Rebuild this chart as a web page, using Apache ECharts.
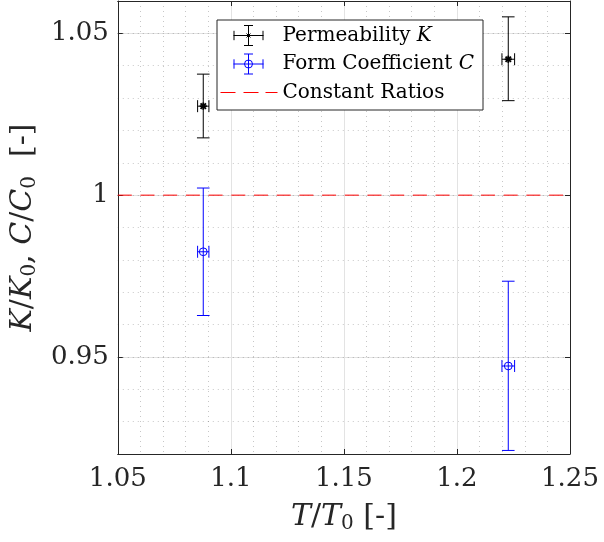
<!DOCTYPE html>
<html><head><meta charset="utf-8">
<script src="https://cdn.jsdelivr.net/npm/echarts@6/dist/echarts.min.js"></script>
<style>html,body{margin:0;padding:0;background:#fff}#c{width:604px;height:542px}</style>
</head><body><div id="c"></div>
<script>
// ---- data ----
const tempRatio = [1.0878, 1.2227];
const tempErr = [0.0025, 0.0028];
const permMean = [1.0275, 1.0420];
const permLow = [1.0177, 1.0292];
const permHigh = [1.0374, 1.0551];
const formMean = [0.9825, 0.9472];
const formLow = [0.9628, 0.9211];
const formHigh = [1.0022, 0.9734];
const constX = [1.05, 1.25];
const constY = [1, 1];
const xTickLabels = ['1.05', '1.1', '1.15', '1.2', '1.25'];
const yTickLabels = ['0.95', '1', '1.05'];
const seriesNames = ['Permeability K', 'Form Coefficient C', 'Constant Ratios'];

const FONT = 'DejaVu Serif';
const AX = '#262626';

function rows(mean, low, high) {
  return tempRatio.map((t, i) => [t, mean[i], low[i], high[i], t - tempErr[i], t + tempErr[i]]);
}

function errorBarRender(marker, color) {
  return function (params, api) {
    const x = api.value(0), y = api.value(1);
    const c = api.coord([x, y]);
    const lo = api.coord([x, api.value(2)]);
    const hi = api.coord([x, api.value(3)]);
    const l = api.coord([api.value(4), y]);
    const r = api.coord([api.value(5), y]);
    const cap = 6.3, hcap = 6;
    const st = { stroke: color, lineWidth: 1, fill: null };
    const ln = (x1, y1, x2, y2, s) => ({ type: 'line', shape: { x1, y1, x2, y2 }, style: s || st });
    const ch = [
      ln(lo[0], lo[1], hi[0], hi[1]),
      ln(lo[0] - cap, lo[1], lo[0] + cap, lo[1]),
      ln(hi[0] - cap, hi[1], hi[0] + cap, hi[1]),
      ln(l[0], l[1], r[0], r[1]),
      ln(l[0], l[1] - hcap, l[0], l[1] + hcap),
      ln(r[0], r[1] - hcap, r[0], r[1] + hcap)
    ];
    if (marker === 'star') {
      const s2 = { stroke: color, lineWidth: 1.8, fill: null };
      const a = 3.6, d = 2.7;
      ch.push(ln(c[0] - a, c[1], c[0] + a, c[1], s2));
      ch.push(ln(c[0], c[1] - a, c[0], c[1] + a, s2));
      ch.push(ln(c[0] - d, c[1] - d, c[0] + d, c[1] + d, s2));
      ch.push(ln(c[0] - d, c[1] + d, c[0] + d, c[1] - d, s2));
    } else {
      ch.push({ type: 'circle', shape: { cx: c[0], cy: c[1], r: 3.9 }, style: { stroke: color, lineWidth: 1, fill: null } });
    }
    return { type: 'group', children: ch };
  };
}

const iconK = 'path://M0,0 M57,22 M13,11 L43,11 M13.5,6.3 L13.5,15.7 M42.5,6.3 L42.5,15.7 M28,1 L28,21 M23.5,1 L32.5,1 M23.5,21 L32.5,21 M25,11 L31,11 M28,8 L28,14 M26,9 L30,13 M30,9 L26,13';
const iconC = 'path://M0,0 M57,22 M13,11 L43,11 M13.5,6.3 L13.5,15.7 M42.5,6.3 L42.5,15.7 M28,1 L28,21 M23.5,1 L32.5,1 M23.5,21 L32.5,21 M32,11 A4,4 0 1 1 24,11 A4,4 0 1 1 32,11';
const iconL = 'path://M0,0 M57,22 M0,11 L15,11 M23,11 L38,11 M45,11 L57,11';

const yMinor = 'rgba(0,0,0,0.22)';
const gridMajor = '#e3e3e3';

const option = {
  animation: false,
  backgroundColor: '#fff',
  grid: { left: 117, right: 34, top: 1, bottom: 88 },
  legend: {
    orient: 'vertical', left: 217, top: 20,
    backgroundColor: '#fff', borderColor: AX, borderWidth: 1, borderRadius: 0,
    padding: [4, 9, 6, 3], itemGap: 5.5, itemWidth: 57, itemHeight: 22,
    textStyle: { fontFamily: FONT, fontSize: 20, color: '#000',
      rich: { i: { fontFamily: FONT, fontSize: 20, fontStyle: 'italic', color: '#000' } } },
    formatter: function (name) {
      if (name === seriesNames[0]) return 'Permeability {i|K}';
      if (name === seriesNames[1]) return 'Form Coefficient {i|C}';
      return name;
    },
    data: [
      { name: seriesNames[0], icon: iconK, itemStyle: { color: 'rgba(0,0,0,0)', borderColor: '#000', borderWidth: 1 } },
      { name: seriesNames[1], icon: iconC, itemStyle: { color: 'rgba(0,0,0,0)', borderColor: '#0000ff', borderWidth: 1 } },
      { name: seriesNames[2], icon: iconL, itemStyle: { color: 'rgba(0,0,0,0)', borderColor: '#ff0000', borderWidth: 1 } }
    ]
  },
  xAxis: [
    {
      type: 'value', min: 1.05, max: 1.25, interval: 0.05, position: 'bottom',
      axisLine: { lineStyle: { color: AX, width: 1 } },
      axisTick: { inside: true, length: 5, lineStyle: { color: AX } },
      axisLabel: { fontFamily: FONT, fontSize: 26, color: AX, margin: 12,
        formatter: v => { const i = xTickLabels.findIndex(s => Math.abs(parseFloat(s) - v) < 1e-9); return i >= 0 ? xTickLabels[i] : ''; } },
      splitLine: { show: true, lineStyle: { color: gridMajor, width: 1 } },
      minorTick: { show: false, splitNumber: 5 },
      minorSplitLine: { show: true, lineStyle: { color: yMinor, type: [1, 4], width: 1 } },
      name: '{i|T}/{i|T}{s|0} [-]', nameLocation: 'middle', nameGap: 46,
      nameTextStyle: { fontFamily: FONT, fontSize: 30, color: AX,
        rich: { i: { fontFamily: FONT, fontSize: 30, fontStyle: 'italic', color: AX },
                s: { fontFamily: FONT, fontSize: 20, color: AX, padding: [14, 0, 0, 0] } } }
    },
    {
      type: 'value', min: 1.05, max: 1.25, interval: 0.05, position: 'top',
      axisLine: { lineStyle: { color: AX, width: 1 } },
      axisTick: { inside: true, length: 5, lineStyle: { color: AX } },
      axisLabel: { show: false }, splitLine: { show: false }
    }
  ],
  yAxis: [
    {
      type: 'value', min: 0.92, max: 1.06, minInterval: 0.05, maxInterval: 0.05, splitNumber: 3, position: 'left',
      axisLine: { lineStyle: { color: AX, width: 1 } },
      axisTick: { inside: true, length: 5, lineStyle: { color: AX } },
      axisLabel: { fontFamily: FONT, fontSize: 26, color: AX, margin: 9,
        formatter: v => { const i = yTickLabels.findIndex(s => Math.abs(parseFloat(s) - v) < 1e-9); return i >= 0 ? yTickLabels[i] : ''; } },
      splitLine: { show: true, lineStyle: { color: gridMajor, width: 1 } },
      name: '{i|K}/{i|K}{s|0}, {i|C}/{i|C}{s|0}  [-]', nameLocation: 'middle', nameGap: 73,
      nameTextStyle: { fontFamily: FONT, fontSize: 30, color: AX,
        rich: { i: { fontFamily: FONT, fontSize: 30, fontStyle: 'italic', color: AX },
                s: { fontFamily: FONT, fontSize: 20, color: AX, padding: [14, 0, 0, 0] } } }
    },
    {
      type: 'value', min: 0.92, max: 1.06, minInterval: 0.05, maxInterval: 0.05, splitNumber: 3, position: 'right',
      axisLine: { show: true, lineStyle: { color: AX, width: 1 } },
      axisTick: { inside: true, length: 5, lineStyle: { color: AX } },
      axisLabel: { show: false }, splitLine: { show: false }
    },
    {
      type: 'value', min: 0.92, max: 1.06, interval: 0.01, position: 'left',
      axisLine: { show: false }, axisTick: { show: false }, axisLabel: { show: false },
      splitLine: { show: true, lineStyle: { color: yMinor, type: [1, 4], width: 1 } }
    }
  ],
  series: [
    {
      name: seriesNames[0], type: 'custom', xAxisIndex: 0, yAxisIndex: 0, z: 5,
      itemStyle: { color: '#000' },
      renderItem: errorBarRender('star', '#000'),
      encode: { x: [0, 4, 5], y: [1, 2, 3] },
      data: rows(permMean, permLow, permHigh)
    },
    {
      name: seriesNames[1], type: 'custom', xAxisIndex: 0, yAxisIndex: 0, z: 5,
      itemStyle: { color: '#0000ff' },
      renderItem: errorBarRender('circle', '#0000ff'),
      encode: { x: [0, 4, 5], y: [1, 2, 3] },
      data: rows(formMean, formLow, formHigh)
    },
    {
      name: seriesNames[2], type: 'line', xAxisIndex: 0, yAxisIndex: 0, z: 4,
      showSymbol: false, symbol: 'none', silent: true,
      itemStyle: { color: '#ff0000' },
      lineStyle: { color: '#ff0000', width: 1, type: [14, 8.7] },
      data: constX.map((x, i) => [x, constY[i]])
    }
  ]
};

const chart = echarts.init(document.getElementById('c'), null, { renderer: 'canvas' });
chart.setOption(option);
</script></body></html>
